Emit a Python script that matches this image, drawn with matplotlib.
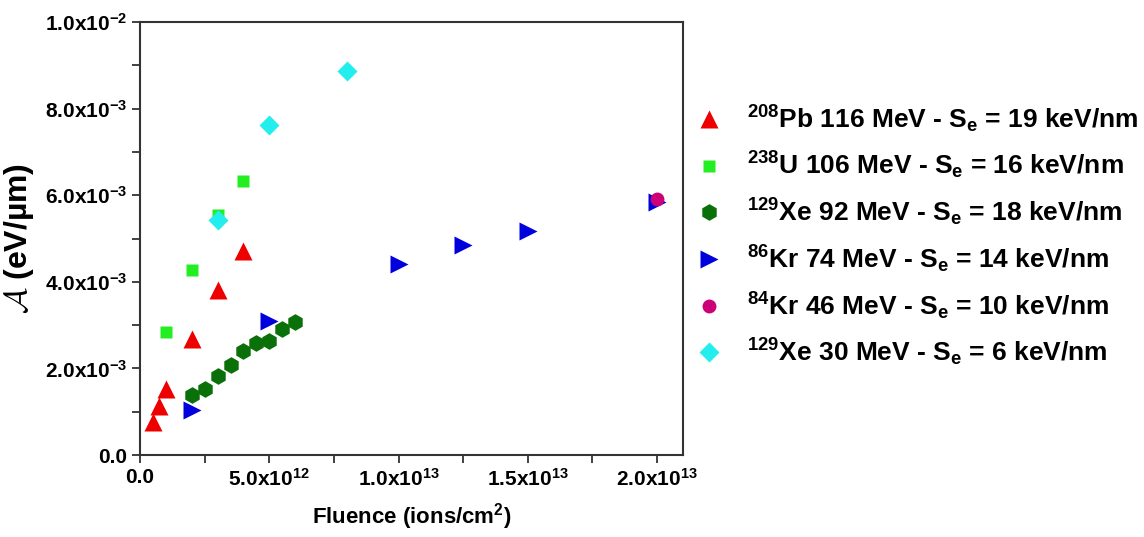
import matplotlib
matplotlib.use('Agg')

import matplotlib.pyplot as plt
from matplotlib.ticker import FixedLocator, MultipleLocator

# ---------------------------
# FONTES
# ---------------------------
plt.rcParams['font.family'] = ['Liberation Sans', 'DejaVu Sans']
plt.rcParams['font.weight'] = 'bold'
plt.rcParams['axes.labelweight'] = 'bold'
plt.rcParams['mathtext.fontset'] = 'custom'
plt.rcParams['mathtext.rm'] = 'Liberation Sans:bold'
plt.rcParams['mathtext.bf'] = 'Liberation Sans:bold'
plt.rcParams['mathtext.it'] = 'Liberation Sans:bold'
plt.rcParams['mathtext.cal'] = 'cmsy10'

# ---------------------------
# DADOS
# ---------------------------
pb_x = [5e11, 7.5e11, 1e12, 2e12, 3e12, 4e12]
pb_y = [7.6e-4, 1.13e-3, 1.52e-3, 2.67e-3, 3.81e-3, 4.72e-3]

u_x = [1e12, 2e12, 3e12, 4e12]
u_y = [2.83e-3, 4.28e-3, 5.55e-3, 6.32e-3]

xe92_x = [2e12, 2.5e12, 3e12, 3.5e12, 4e12, 4.5e12, 5e12, 5.5e12, 6e12]
xe92_y = [1.38e-3, 1.52e-3, 1.83e-3, 2.08e-3, 2.40e-3, 2.59e-3, 2.64e-3, 2.90e-3, 3.08e-3]

kr74_x = [2e12, 5e12, 1e13, 1.25e13, 1.5e13, 2e13]
kr74_y = [1.04e-3, 3.09e-3, 4.41e-3, 4.86e-3, 5.18e-3, 5.85e-3]

kr46_x = [2e13]
kr46_y = [5.91e-3]

xe30_x = [3e12, 5e12, 8e12]
xe30_y = [5.42e-3, 7.61e-3, 8.88e-3]

labels = [
    r'$^{208}$Pb 116 MeV - S$_{e}$ = 19 keV/nm',
    r'$^{238}$U 106 MeV - S$_{e}$ = 16 keV/nm',
    r'$^{129}$Xe 92 MeV - S$_{e}$ = 18 keV/nm',
    r'$^{86}$Kr 74 MeV - S$_{e}$ = 14 keV/nm',
    r'$^{84}$Kr 46 MeV - S$_{e}$ = 10 keV/nm',
    r'$^{129}$Xe 30 MeV - S$_{e}$ = 6 keV/nm',
]

x_ticks = [0, 5e12, 1e13, 1.5e13, 2e13]
x_ticklabels = ['0.0', r'5.0x10$^{12}$', r'1.0x10$^{13}$', r'1.5x10$^{13}$', r'2.0x10$^{13}$']
y_ticks = [0, 2e-3, 4e-3, 6e-3, 8e-3, 1e-2]
y_ticklabels = ['0.0', r'2.0x10$^{-3}$', r'4.0x10$^{-3}$', r'6.0x10$^{-3}$',
                r'8.0x10$^{-3}$', r'1.0x10$^{-2}$']

# ---------------------------
# FIGURA
# ---------------------------
fig = plt.figure(figsize=(11.44, 5.37), dpi=100)
ax = fig.add_axes([0.1224, 0.1527, 0.597 - 0.1224, 0.959 - 0.1527])

ax.plot(pb_x, pb_y, '^', color='#ee0000', ms=13, mec='none', label=labels[0])
ax.plot(u_x, u_y, 's', color='#22ee22', ms=9, mec='none', label=labels[1])
ax.plot(xe92_x, xe92_y, 'h', color='#0a700a', ms=12, mec='none', label=labels[2])
ax.plot(kr74_x, kr74_y, '>', color='#0000dd', ms=13, mec='none', label=labels[3])
ax.plot(kr46_x, kr46_y, 'o', color='#cc0077', ms=10, mec='none', label=labels[4])
ax.plot(xe30_x, xe30_y, 'D', color='#22eeee', ms=10, mec='none', label=labels[5])

ax.set_xlim(0, 2.1e13)
ax.set_ylim(0, 1e-2)

ax.xaxis.set_major_locator(FixedLocator(x_ticks))
ax.set_xticklabels(x_ticklabels)
ax.yaxis.set_major_locator(FixedLocator(y_ticks))
ax.set_yticklabels(y_ticklabels)
ax.xaxis.set_minor_locator(MultipleLocator(2.5e12))
ax.yaxis.set_minor_locator(MultipleLocator(1e-3))

ax.tick_params(which='both', direction='out', length=6, width=1.3, color='#333333',
               labelsize=15, top=False, right=False)
for s in ax.spines.values():
    s.set_linewidth(1.5)
    s.set_color('#333333')

ax.set_xlabel(r'Fluence (ions/cm$^{2}$)', fontsize=16, labelpad=8)
ax.set_ylabel(r'$\mathcal{A}$ (eV/µm)', fontsize=23, labelpad=6)

fig.legend(loc='center left', bbox_to_anchor=(0.585, 0.561), frameon=False,
           fontsize=19, handletextpad=0.85, labelspacing=0.58, handlelength=1.2)

fig.savefig('out.png', dpi=100)
